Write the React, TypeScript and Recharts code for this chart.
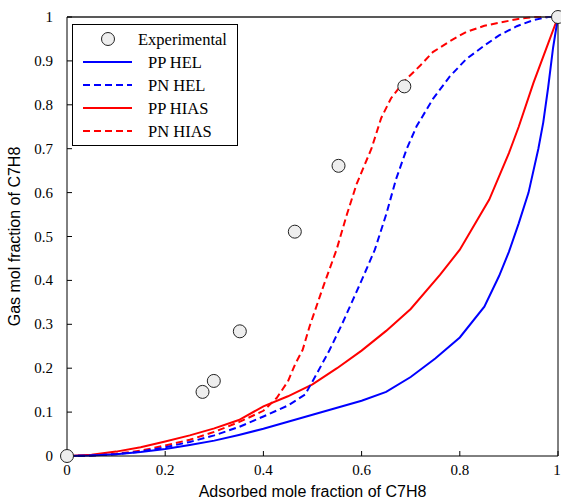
import {
  ComposedChart,
  Legend,
  Line,
  Scatter,
  XAxis,
  YAxis,
  Label,
} from "recharts";

const xTicks = [0, 0.2, 0.4, 0.6, 0.8, 1];
const yTicks = [0, 0.1, 0.2, 0.3, 0.4, 0.5, 0.6, 0.7, 0.8, 0.9, 1];

const experimental = [
  { x: 0, y: 0 },
  { x: 0.276, y: 0.146 },
  { x: 0.299, y: 0.171 },
  { x: 0.352, y: 0.284 },
  { x: 0.464, y: 0.511 },
  { x: 0.553, y: 0.661 },
  { x: 0.687, y: 0.842 },
  { x: 1, y: 1 },
];

const ppHelX = [0, 0.05, 0.1, 0.15, 0.2, 0.25, 0.3, 0.35, 0.4, 0.45, 0.5, 0.55, 0.6, 0.65, 0.7, 0.75, 0.8, 0.85, 0.88, 0.9, 0.92, 0.94, 0.96, 0.97, 0.98, 0.99, 1];
const ppHelY = [0, 0.001, 0.004, 0.009, 0.016, 0.025, 0.035, 0.048, 0.062, 0.078, 0.094, 0.11, 0.126, 0.146, 0.18, 0.222, 0.27, 0.34, 0.41, 0.465, 0.53, 0.6, 0.7, 0.76, 0.84, 0.93, 1];

const pnHelX = [0, 0.05, 0.1, 0.15, 0.2, 0.25, 0.3, 0.35, 0.4, 0.45, 0.485, 0.51, 0.535, 0.56, 0.58, 0.6, 0.627, 0.65, 0.67, 0.692, 0.712, 0.745, 0.78, 0.813, 0.85, 0.88, 0.916, 0.95, 0.98, 1];
const pnHelY = [0, 0.001, 0.004, 0.01, 0.02, 0.032, 0.047, 0.066, 0.09, 0.115, 0.14, 0.19, 0.242, 0.3, 0.35, 0.4, 0.47, 0.55, 0.63, 0.7, 0.751, 0.813, 0.865, 0.904, 0.935, 0.958, 0.979, 0.993, 1, 1];

const ppHiasX = [0, 0.05, 0.1, 0.15, 0.2, 0.25, 0.3, 0.35, 0.4, 0.45, 0.5, 0.55, 0.6, 0.65, 0.7, 0.76, 0.8, 0.86, 0.9, 0.92, 0.95, 0.98, 1];
const ppHiasY = [0, 0.003, 0.01, 0.02, 0.033, 0.047, 0.063, 0.082, 0.113, 0.136, 0.163, 0.2, 0.24, 0.285, 0.335, 0.413, 0.47, 0.584, 0.69, 0.75, 0.85, 0.94, 1];

const pnHiasX = [0, 0.05, 0.1, 0.15, 0.2, 0.25, 0.3, 0.35, 0.4, 0.427, 0.45, 0.465, 0.48, 0.494, 0.52, 0.549, 0.57, 0.59, 0.62, 0.64, 0.66, 0.687, 0.72, 0.745, 0.78, 0.813, 0.85, 0.916, 0.95, 1];
const pnHiasY = [0, 0.001, 0.005, 0.012, 0.024, 0.037, 0.055, 0.077, 0.103, 0.132, 0.17, 0.21, 0.242, 0.295, 0.38, 0.47, 0.55, 0.62, 0.7, 0.77, 0.815, 0.854, 0.89, 0.92, 0.945, 0.966, 0.98, 0.995, 1, 1];

const toPoints = (xs: number[], ys: number[]) => xs.map((x, i) => ({ x, y: ys[i] }));

const series = [
  { name: "PP HEL", color: "#0000ff", dash: undefined, data: toPoints(ppHelX, ppHelY) },
  { name: "PN HEL", color: "#0000ff", dash: "7 4", data: toPoints(pnHelX, pnHelY) },
  { name: "PP HIAS", color: "#ff0000", dash: undefined, data: toPoints(ppHiasX, ppHiasY) },
  { name: "PN HIAS", color: "#ff0000", dash: "7 4", data: toPoints(pnHiasX, pnHiasY) },
];

const serif = "'Liberation Serif', 'Times New Roman', serif";
const sans = "'Liberation Sans', Arial, sans-serif";

const MarkerCircle = (props: any) => (
  <circle cx={props.cx} cy={props.cy} r={6.5} fill="#eeeeee" stroke="#222" strokeWidth={1} />
);

// tick label drawn by hand so it gets the serif face
const serifTick = (side: string) => (props: any) => {
  const { x, y, payload, textAnchor } = props;
  return (
    <text
      x={x}
      y={y}
      textAnchor={textAnchor}
      dominantBaseline={side === "bottom" ? "hanging" : "central"}
      style={{ fontFamily: serif, fontSize: 15, fill: "#000" }}
    >
      {String(payload.value)}
    </text>
  );
};

function LegendBox() {
  const rowY = [15, 38, 61, 84, 107];
  return (
    <svg width={166} height={122} style={{ display: "block" }}>
      <rect x={0.5} y={0.5} width={165} height={121} fill="#fff" stroke="#000" />
      <circle cx={36} cy={rowY[0]} r={6.5} fill="#eeeeee" stroke="#222" />
      <text x={66} y={rowY[0]} dominantBaseline="central" style={{ fontFamily: serif, fontSize: 16.5 }}>
        Experimental
      </text>
      {series.map((s, i) => (
        <g key={s.name}>
          <line
            x1={11}
            x2={60}
            y1={rowY[i + 1]}
            y2={rowY[i + 1]}
            stroke={s.color}
            strokeWidth={2}
            strokeDasharray={s.dash}
          />
          <text x={76} y={rowY[i + 1]} dominantBaseline="central" style={{ fontFamily: serif, fontSize: 16.5 }}>
            {s.name}
          </text>
        </g>
      ))}
    </svg>
  );
}

const YTitle = (props: any) => {
  const vb = props.viewBox;
  const cx = 14;
  const cy = vb.y + vb.height / 2;
  return (
    <text
      x={cx}
      y={cy}
      transform={`rotate(-90 ${cx} ${cy})`}
      textAnchor="middle"
      dominantBaseline="central"
      style={{ fontFamily: sans, fontSize: 16, fill: "#000" }}
    >
      Gas mol fraction of C7H8
    </text>
  );
};

export default function App() {
  return (
    <div style={{ position: "absolute", left: 0, top: 0, background: "#fff", width: 561, height: 502 }}>
      <ComposedChart width={561} height={502} margin={{ top: 16, right: 2, bottom: 0, left: 0 }}>
        <XAxis
          xAxisId="b"
          dataKey="x"
          type="number"
          domain={[0, 1]}
          ticks={xTicks}
          height={46}
          tickSize={-5}
          tickMargin={14}
          tick={serifTick("bottom")}
          stroke="#000"
          tickLine={{ stroke: "#000" }}
        >
          <Label
            value="Adsorbed mole fraction of C7H8"
            position="insideBottom"
            offset={5}
            style={{ fontFamily: sans, fontSize: 16, fill: "#000" }}
          />
        </XAxis>
        <XAxis
          xAxisId="t"
          orientation="top"
          dataKey="x"
          type="number"
          domain={[0, 1]}
          ticks={xTicks}
          height={1}
          tickSize={-5}
          tick={false}
          stroke="#222"
          strokeWidth={1.5}
        />
        <YAxis
          yAxisId="l"
          type="number"
          domain={[0, 1]}
          ticks={yTicks}
          width={67}
          tickSize={-5}
          tickMargin={19}
          tick={serifTick("left")}
          stroke="#000"
          tickLine={{ stroke: "#000" }}
        >
          <Label content={<YTitle />} />
        </YAxis>
        <YAxis
          yAxisId="r"
          orientation="right"
          type="number"
          domain={[0, 1]}
          ticks={yTicks}
          width={1}
          tickSize={-5}
          tick={false}
          stroke="#000"
        />
        <Legend
          layout="vertical"
          align="center"
          verticalAlign="middle"
          wrapperStyle={{ left: 72, top: 24, width: 166, height: 122 }}
          content={<LegendBox />}
        />
        <Scatter
          xAxisId="b"
          yAxisId="l"
          name="Experimental"
          data={experimental}
          dataKey="y"
          shape={<MarkerCircle />}
          isAnimationActive={false}
        />
        {[...series].reverse().map((s) => (
          <Line
            key={s.name}
            xAxisId="b"
            yAxisId="l"
            name={s.name}
            data={s.data}
            dataKey="y"
            type="linear"
            stroke={s.color}
            strokeWidth={2}
            strokeDasharray={s.dash}
            dot={false}
            activeDot={false}
            isAnimationActive={false}
          />
        ))}
      </ComposedChart>
    </div>
  );
}
